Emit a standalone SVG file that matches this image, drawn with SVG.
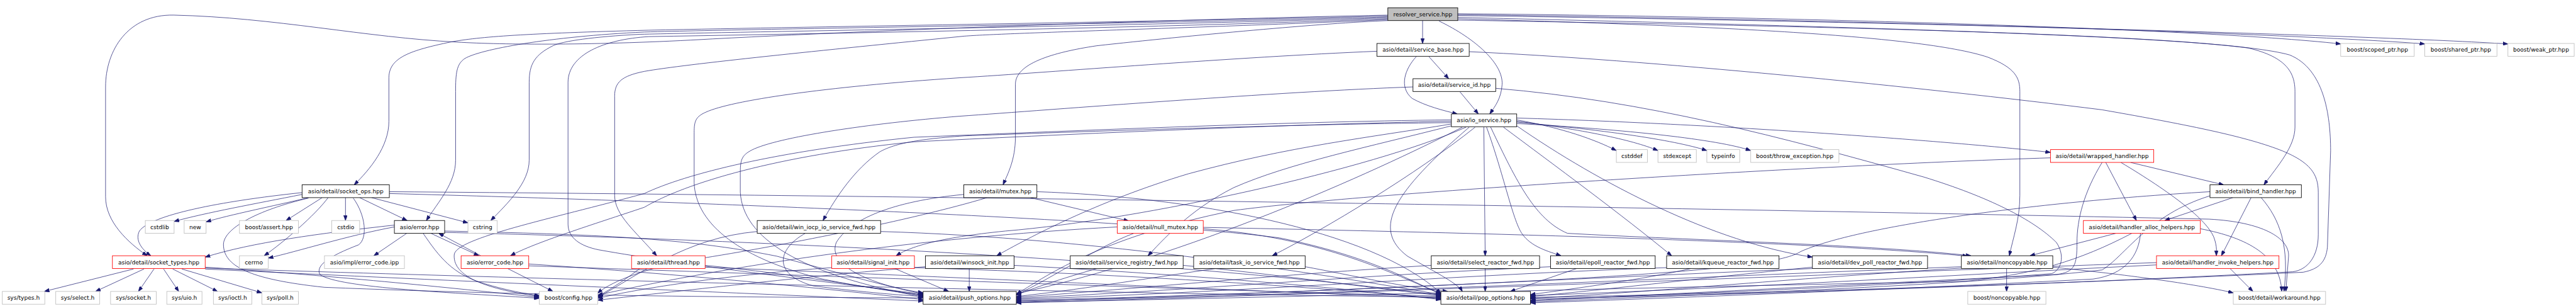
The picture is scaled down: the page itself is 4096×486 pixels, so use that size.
<svg xmlns="http://www.w3.org/2000/svg" width="4096" height="486" viewBox="0 0 4096 486">
<defs>
<style>
.bg{fill:#ffffff}
rect{fill:#ffffff;stroke:#000000;stroke-width:1.2}
.g rect{stroke:#bfbfbf}
.r rect{stroke:#ff0000}
.root rect{fill:#bfbfbf}
text{font-family:"DejaVu Sans","Liberation Sans",sans-serif;font-size:12.5px;text-anchor:middle;fill:#000000}
#edges path{fill:none;stroke:#191970;stroke-width:1;marker-end:url(#a)}
</style>
<marker id="a" viewBox="0 0 11 8" refX="11" refY="4" markerWidth="11" markerHeight="8" orient="auto" markerUnits="userSpaceOnUse"><path d="M0,0 L11,4 L0,8 z" fill="#191970" stroke="#191970"/></marker>
</defs>
<rect class="bg" x="0" y="0" width="4096" height="486" style="stroke:none"/>
<g transform="scale(0.72663)">
<g id="edges">
<path d="M3113,45 L3113,95"/>
<path d="M3149,46 C3230,85 3290,140 3287,185 C3285,215 3272,232 3260,249"/>
<path d="M3037,33 C2600,42 2000,62 1560,85 C1300,100 1100,98 1000,92 C800,82 600,38 380,33 C280,31 231,110 231,190 L231,430 C231,485 280,530 322,559"/>
<path d="M3037,35 C2500,48 1800,58 1420,66 C1150,73 1050,80 985,92 C900,110 851,125 851,170 L851,265 C851,320 810,370 775,404"/>
<path d="M3037,37 C2500,52 1700,62 1410,70 C1200,80 1050,108 1017,128 C999,140 997,160 997,200 L997,350 C997,400 960,440 933,482"/>
<path d="M3037,39 C2500,56 1600,70 1400,75 C1300,80 1230,90 1210,100 C1170,120 1158,140 1158,180 L1158,350 C1158,400 1110,445 1074,482"/>
<path d="M3037,41 C2600,58 2000,70 1420,80 C1320,86 1243,120 1243,180 L1243,490 C1243,520 1270,538 1310,546 C1500,580 1800,615 2020,643"/>
<path d="M3037,43 C2600,62 2200,72 2110,79 C1800,110 1500,140 1410,156 C1360,166 1345,180 1345,210 L1345,427 C1345,470 1390,505 1437,559"/>
<path d="M3037,45 C2900,50 2600,78 2400,100 C2300,115 2222,140 2222,184 L2222,299 C2222,350 2205,380 2195,404"/>
<path d="M3189,30 C3800,35 4800,60 5122,96"/>
<path d="M3189,32 C4000,42 5000,72 5306,96"/>
<path d="M3189,34 C4200,48 5200,78 5488,96"/>
<path d="M3189,38 C3900,55 4700,75 4920,105 C5005,125 5022,160 5022,200 L5022,278 C5022,320 4985,362 4954,404"/>
<path d="M3189,41 C3700,55 4200,75 4350,125 C4410,148 4420,170 4420,200 L4420,427 C4420,480 4405,520 4397,559"/>
<path d="M3189,44 C4000,58 4850,75 5010,120 C5085,150 5100,250 5100,330 L5093,540 C5090,572 5075,588 5040,595 C4500,622 3800,642 3349,650"/>
<path d="M3127,124 L3170,172"/>
<path d="M3099,124 C3075,150 3060,190 3090,215 C3120,232 3160,242 3189,249"/>
<path d="M3013,112 C2700,125 2300,158 2100,170 C1800,190 1600,220 1545,245 C1522,255 1519,265 1519,290 L1519,400 C1522,480 1600,560 1800,610 C1900,630 1980,640 2020,646"/>
<path d="M3215,113 C3600,130 4200,190 4600,240 C4800,275 4920,300 4995,330 C5055,355 5073,380 5073,420 L5073,513 C5073,560 5050,590 5017,594 C4500,622 3800,645 3349,653"/>
<path d="M3195,201 L3235,249"/>
<path d="M3092,190 C2800,200 2300,240 2100,254 C1900,270 1700,300 1645,328 C1622,340 1620,350 1620,380 L1620,420 C1625,520 1750,600 2020,649"/>
<path d="M3273,193 C3600,220 3900,300 4210,387 C4350,430 4450,480 4500,530 C4520,560 4510,590 4490,598 C4200,622 3700,642 3349,656"/>
<path d="M3319,262 C3420,280 3490,305 3537,329"/>
<path d="M3319,265 C3460,283 3570,305 3628,329"/>
<path d="M3319,267 C3500,283 3660,305 3735,329"/>
<path d="M3319,270 C3560,283 3760,305 3831,329"/>
<path d="M3319,258 C3800,272 4300,312 4487,333"/>
<path d="M3176,262 C2800,266 2300,288 2000,300 C1700,330 1500,380 1410,423 C1200,480 1000,520 994,556 C990,600 1050,630 1180,648"/>
<path d="M3176,265 C2800,272 2300,295 2000,310 C1700,340 1500,400 1410,453 C1300,490 1170,530 1117,559"/>
<path d="M3176,268 C2800,272 2300,290 2110,297 C1990,305 1950,318 1925,332 C1870,370 1830,430 1801,482"/>
<path d="M3208,278 C3000,370 2500,480 2200,505 C2050,520 1990,540 1961,559"/>
<path d="M3176,271 C3000,300 2820,320 2600,380 C2400,440 2250,520 2181,559"/>
<path d="M3176,275 C3000,320 2820,357 2700,410 C2600,460 2540,530 2512,559"/>
<path d="M3228,278 C3100,380 2900,500 2784,559"/>
<path d="M3247,278 L3250,559"/>
<path d="M3253,278 C3290,380 3310,480 3330,510 C3350,540 3390,550 3416,559"/>
<path d="M3290,278 C3400,360 3550,470 3658,559"/>
<path d="M3319,275 C3500,400 3750,530 3966,562"/>
<path d="M3262,278 C3320,400 3360,480 3430,510 C3700,525 4100,535 4313,559"/>
<path d="M3200,278 C3000,380 2600,560 2224,642"/>
<path d="M3215,278 C3050,420 3000,500 3080,560 C3150,600 3190,620 3200,637"/>
<path d="M661,421 C480,440 330,470 305,505 C295,525 310,545 330,559"/>
<path d="M661,425 C560,445 450,465 381,484"/>
<path d="M675,432 C600,450 500,470 451,485"/>
<path d="M705,432 L626,482"/>
<path d="M718,432 C690,470 620,530 578,559"/>
<path d="M756,432 L756,482"/>
<path d="M787,432 L891,482"/>
<path d="M813,432 L1024,487"/>
<path d="M852,419 C2000,428 3500,450 4834,479 C4950,485 5010,520 5008,560 L5002,637"/>
<path d="M675,433 C560,460 490,500 489,534 C489,580 540,610 710,628 C1200,648 1700,650 2020,651"/>
<path d="M773,433 C800,470 805,520 785,535 C720,560 690,580 700,600 C740,630 1000,640 1180,652"/>
<path d="M852,423 C1500,440 2500,480 2800,520 C3000,560 3100,620 3153,643"/>
<path d="M890,510 L818,559"/>
<path d="M943,510 L1048,559"/>
<path d="M863,492 C700,510 550,530 449,562"/>
<path d="M863,496 C760,515 650,550 587,564"/>
<path d="M926,510 C960,560 990,600 1060,620 C1110,635 1150,642 1180,646"/>
<path d="M973,505 C1300,512 1500,520 1700,560 C1850,600 1950,630 2020,640"/>
<path d="M973,508 C1500,520 2500,560 3153,645"/>
<path d="M1052,559 L960,510"/>
<path d="M1111,587 L1210,637"/>
<path d="M1157,577 C1500,600 1800,630 2020,655"/>
<path d="M1157,581 C2000,610 2800,640 3153,647"/>
<path d="M292,588 L97,637"/>
<path d="M315,588 L209,637"/>
<path d="M337,588 L303,637"/>
<path d="M358,588 L391,637"/>
<path d="M378,588 L476,637"/>
<path d="M398,588 L573,640"/>
<path d="M449,584 C700,600 1000,630 1180,650"/>
<path d="M449,588 C900,610 1600,640 2020,658"/>
<path d="M449,586 C1500,620 2600,645 3153,649"/>
<path d="M2255,432 L2470,483"/>
<path d="M2160,432 C2000,480 1700,540 1500,570 C1400,590 1330,620 1308,641"/>
<path d="M2109,425 C1950,440 1860,480 1830,530 C1810,580 1900,620 2020,642"/>
<path d="M2269,419 C2600,430 3000,500 3153,641"/>
<path d="M2633,497 C3300,510 4000,530 4306,560"/>
<path d="M2481,510 C2400,540 2300,610 2224,644"/>
<path d="M2445,496 C2000,520 1600,580 1308,645"/>
<path d="M2633,500 C2900,520 3050,600 3153,642"/>
<path d="M1400,587 C1370,610 1340,630 1308,648"/>
<path d="M1543,580 C1750,600 1900,630 2020,645"/>
<path d="M1543,584 C2200,610 2800,640 3153,651"/>
<path d="M1958,587 L2076,637"/>
<path d="M1820,585 C1600,600 1400,630 1308,652"/>
<path d="M2001,585 C2500,600 2900,630 3153,653"/>
<path d="M2121,587 L2121,637"/>
<path d="M2025,583 C1800,600 1500,635 1308,656"/>
<path d="M2219,580 C2600,600 2950,630 3153,655"/>
<path d="M1762,510 C1700,545 1690,600 1780,625 C1900,640 1970,645 2020,648"/>
<path d="M1927,506 C2400,520 2900,600 3153,644"/>
<path d="M1657,506 C1500,520 1400,600 1308,650"/>
<path d="M2400,587 C2320,610 2260,630 2224,645"/>
<path d="M2589,580 C2800,600 3000,630 3153,646"/>
<path d="M2660,587 C2500,610 2350,635 2224,648"/>
<path d="M2856,583 C2950,600 3080,630 3168,637"/>
<path d="M3250,587 L3250,637"/>
<path d="M3132,580 C2800,600 2500,630 2224,650"/>
<path d="M3450,587 L3305,637"/>
<path d="M3393,583 C3000,600 2600,635 2224,652"/>
<path d="M3700,587 C3600,610 3450,630 3349,644"/>
<path d="M3647,585 C3200,600 2700,640 2224,654"/>
<path d="M3966,584 C3700,610 3500,635 3349,648"/>
<path d="M3966,587 C3400,610 2800,645 2224,656"/>
<path d="M4391,587 L4391,637"/>
<path d="M4492,584 C4650,600 4800,620 4887,640"/>
<path d="M4292,583 C3600,610 2900,645 2224,658"/>
<path d="M4292,586 C3900,610 3600,640 3349,652"/>
<path d="M4608,355 L4675,482"/>
<path d="M4641,355 C4750,420 4830,480 4845,520 C4852,540 4850,550 4850,559"/>
<path d="M4662,355 L4866,404"/>
<path d="M4487,345 C4000,360 3000,420 2700,460 C2400,520 2280,610 2224,643"/>
<path d="M4600,355 C4560,420 4545,480 4545,530 C4545,580 4540,595 4500,600 C4000,625 3600,645 3349,658"/>
<path d="M4886,432 L4737,482"/>
<path d="M4926,432 L4861,559"/>
<path d="M4948,432 C4990,480 5010,540 4998,637"/>
<path d="M4836,419 C4400,445 4050,500 3940,550 C3880,590 3500,615 2224,660"/>
<path d="M4836,428 C4700,470 4650,560 4600,590 C4300,625 3700,645 3349,660"/>
<path d="M4630,510 L4442,559"/>
<path d="M4815,500 C4920,520 4990,560 4993,637"/>
<path d="M4665,510 C4550,570 4450,600 4300,615 C3500,630 2800,650 2224,661"/>
<path d="M4684,510 C4680,560 4650,600 4580,610 C4200,630 3700,650 3349,662"/>
<path d="M4880,587 L4930,637"/>
<path d="M4719,574 C4000,600 3000,640 2224,662"/>
<path d="M4719,579 C4300,600 3800,630 3349,646"/>
</g>
<g id="n_root" class="root"><rect x="3037" y="17" width="153" height="28"/><text x="3113.5" y="35.5">resolver_service.hpp</text></g>
<g id="n_service_base"><rect x="3013" y="95" width="202" height="28"/><text x="3114" y="113.5">asio/detail/service_base.hpp</text></g>
<g id="n_scoped_ptr" class="g"><rect x="5122" y="95" width="161" height="28"/><text x="5202.5" y="113.5">boost/scoped_ptr.hpp</text></g>
<g id="n_shared_ptr" class="g"><rect x="5306" y="95" width="158" height="28"/><text x="5385" y="113.5">boost/shared_ptr.hpp</text></g>
<g id="n_weak_ptr" class="g"><rect x="5488" y="95" width="145" height="28"/><text x="5560.5" y="113.5">boost/weak_ptr.hpp</text></g>
<g id="n_service_id"><rect x="3092" y="172" width="181" height="28"/><text x="3182.5" y="190.5">asio/detail/service_id.hpp</text></g>
<g id="n_io_service"><rect x="3176" y="249" width="143" height="28"/><text x="3247.5" y="267.5">asio/io_service.hpp</text></g>
<g id="n_cstddef" class="g"><rect x="3537" y="327" width="68" height="28"/><text x="3571" y="345.5">cstddef</text></g>
<g id="n_stdexcept" class="g"><rect x="3628" y="327" width="84" height="28"/><text x="3670" y="345.5">stdexcept</text></g>
<g id="n_typeinfo" class="g"><rect x="3735" y="327" width="72" height="28"/><text x="3771" y="345.5">typeinfo</text></g>
<g id="n_throw_exception" class="g"><rect x="3831" y="327" width="193" height="28"/><text x="3927.5" y="345.5">boost/throw_exception.hpp</text></g>
<g id="n_wrapped_handler" class="r"><rect x="4487" y="327" width="226" height="28"/><text x="4600" y="345.5">asio/detail/wrapped_handler.hpp</text></g>
<g id="n_socket_ops"><rect x="661" y="404" width="191" height="28"/><text x="756.5" y="422.5">asio/detail/socket_ops.hpp</text></g>
<g id="n_mutex"><rect x="2109" y="404" width="160" height="28"/><text x="2189" y="422.5">asio/detail/mutex.hpp</text></g>
<g id="n_bind_handler"><rect x="4836" y="404" width="200" height="28"/><text x="4936" y="422.5">asio/detail/bind_handler.hpp</text></g>
<g id="n_cstdlib" class="g"><rect x="318" y="482" width="63" height="28"/><text x="349.5" y="500.5">cstdlib</text></g>
<g id="n_new" class="g"><rect x="403" y="482" width="48" height="28"/><text x="427" y="500.5">new</text></g>
<g id="n_assert" class="g"><rect x="524" y="482" width="129" height="28"/><text x="588.5" y="500.5">boost/assert.hpp</text></g>
<g id="n_cstdio" class="g"><rect x="726" y="482" width="61" height="28"/><text x="756.5" y="500.5">cstdio</text></g>
<g id="n_error"><rect x="863" y="482" width="110" height="28"/><text x="918" y="500.5">asio/error.hpp</text></g>
<g id="n_cstring" class="g"><rect x="1024" y="482" width="64" height="28"/><text x="1056" y="500.5">cstring</text></g>
<g id="n_win_iocp"><rect x="1657" y="482" width="270" height="28"/><text x="1792" y="500.5">asio/detail/win_iocp_io_service_fwd.hpp</text></g>
<g id="n_null_mutex" class="r"><rect x="2445" y="482" width="188" height="28"/><text x="2539" y="500.5">asio/detail/null_mutex.hpp</text></g>
<g id="n_handler_alloc" class="r"><rect x="4559" y="482" width="256" height="28"/><text x="4687" y="500.5">asio/detail/handler_alloc_helpers.hpp</text></g>
<g id="n_socket_types" class="r"><rect x="246" y="559" width="203" height="28"/><text x="347.5" y="577.5">asio/detail/socket_types.hpp</text></g>
<g id="n_cerrno" class="g"><rect x="524" y="559" width="63" height="28"/><text x="555.5" y="577.5">cerrno</text></g>
<g id="n_error_code_ipp" class="g"><rect x="710" y="559" width="175" height="28"/><text x="797.5" y="577.5">asio/impl/error_code.ipp</text></g>
<g id="n_error_code" class="r"><rect x="1009" y="559" width="148" height="28"/><text x="1083" y="577.5">asio/error_code.hpp</text></g>
<g id="n_thread" class="r"><rect x="1382" y="559" width="161" height="28"/><text x="1462.5" y="577.5">asio/detail/thread.hpp</text></g>
<g id="n_signal_init" class="r"><rect x="1820" y="559" width="181" height="28"/><text x="1910.5" y="577.5">asio/detail/signal_init.hpp</text></g>
<g id="n_winsock_init"><rect x="2025" y="559" width="194" height="28"/><text x="2122" y="577.5">asio/detail/winsock_init.hpp</text></g>
<g id="n_service_registry_fwd"><rect x="2342" y="559" width="247" height="28"/><text x="2465.5" y="577.5">asio/detail/service_registry_fwd.hpp</text></g>
<g id="n_task_io_service_fwd"><rect x="2612" y="559" width="244" height="28"/><text x="2734" y="577.5">asio/detail/task_io_service_fwd.hpp</text></g>
<g id="n_select_reactor_fwd"><rect x="3132" y="559" width="237" height="28"/><text x="3250.5" y="577.5">asio/detail/select_reactor_fwd.hpp</text></g>
<g id="n_epoll_reactor_fwd"><rect x="3393" y="559" width="229" height="28"/><text x="3507.5" y="577.5">asio/detail/epoll_reactor_fwd.hpp</text></g>
<g id="n_kqueue_reactor_fwd"><rect x="3647" y="559" width="246" height="28"/><text x="3770" y="577.5">asio/detail/kqueue_reactor_fwd.hpp</text></g>
<g id="n_dev_poll_reactor_fwd"><rect x="3966" y="559" width="252" height="28"/><text x="4092" y="577.5">asio/detail/dev_poll_reactor_fwd.hpp</text></g>
<g id="n_noncopyable"><rect x="4292" y="559" width="200" height="28"/><text x="4392" y="577.5">asio/detail/noncopyable.hpp</text></g>
<g id="n_handler_invoke" class="r"><rect x="4719" y="559" width="268" height="28"/><text x="4853" y="577.5">asio/detail/handler_invoke_helpers.hpp</text></g>
<g id="n_sys_types" class="g"><rect x="5" y="637" width="93" height="28"/><text x="51.5" y="655.5">sys/types.h</text></g>
<g id="n_sys_select" class="g"><rect x="122" y="637" width="96" height="28"/><text x="170" y="655.5">sys/select.h</text></g>
<g id="n_sys_socket" class="g"><rect x="242" y="637" width="100" height="28"/><text x="292" y="655.5">sys/socket.h</text></g>
<g id="n_sys_uio" class="g"><rect x="365" y="637" width="77" height="28"/><text x="403.5" y="655.5">sys/uio.h</text></g>
<g id="n_sys_ioctl" class="g"><rect x="467" y="637" width="84" height="28"/><text x="509" y="655.5">sys/ioctl.h</text></g>
<g id="n_sys_poll" class="g"><rect x="573" y="637" width="80" height="28"/><text x="613" y="655.5">sys/poll.h</text></g>
<g id="n_config" class="g"><rect x="1180" y="637" width="128" height="28"/><text x="1244" y="655.5">boost/config.hpp</text></g>
<g id="n_push_options"><rect x="2020" y="637" width="204" height="28"/><text x="2122" y="655.5">asio/detail/push_options.hpp</text></g>
<g id="n_pop_options"><rect x="3153" y="637" width="196" height="28"/><text x="3251" y="655.5">asio/detail/pop_options.hpp</text></g>
<g id="n_boost_noncopyable" class="g"><rect x="4306" y="637" width="171" height="28"/><text x="4391.5" y="655.5">boost/noncopyable.hpp</text></g>
<g id="n_workaround" class="g"><rect x="4887" y="637" width="202" height="28"/><text x="4988" y="655.5">boost/detail/workaround.hpp</text></g>
</g>
</svg>
